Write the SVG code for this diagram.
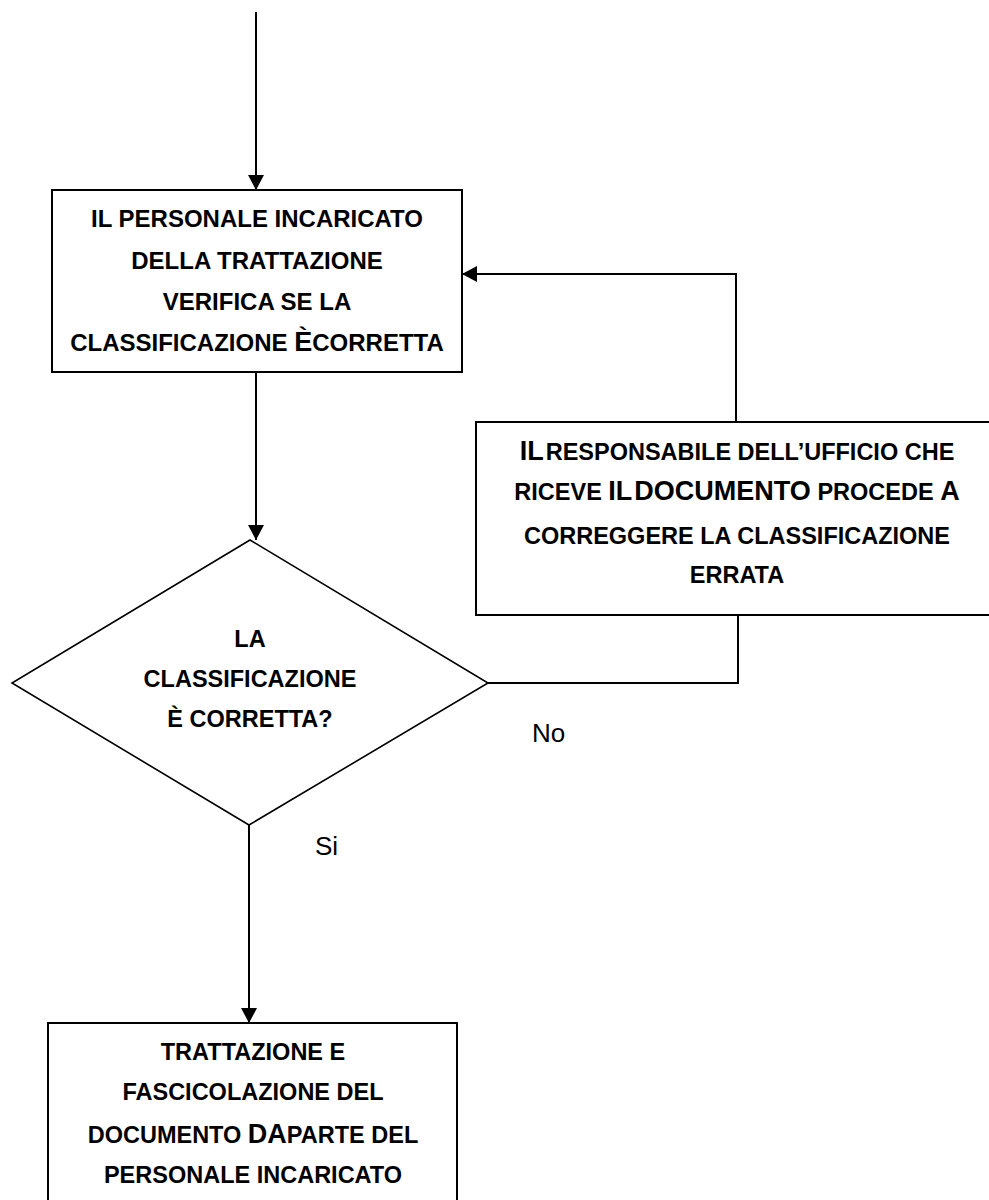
<svg xmlns="http://www.w3.org/2000/svg" width="989" height="1200" viewBox="0 0 989 1200">
<style>
.box{fill:#fff;stroke:#000;stroke-width:2}
.dia{fill:#fff;stroke:#000;stroke-width:1.6}
.t{font-family:"Liberation Sans",Arial,sans-serif;font-weight:bold;font-size:23.5px;fill:#000;text-anchor:middle}
.big{font-size:27px}
.lbl{font-family:"Liberation Sans",Arial,sans-serif;font-size:26px;fill:#000}
.c{fill:none;stroke:#000;stroke-width:2}
</style>
<defs>
<marker id="arr" markerUnits="userSpaceOnUse" viewBox="0 0 15 16" refX="15" refY="8" markerWidth="15" markerHeight="16" orient="auto">
<path d="M0,0 L15,8 L0,16 z" fill="#000"/>
</marker>
</defs>
<g id="connectors">
<line class="c" x1="256" y1="12" x2="256" y2="190" marker-end="url(#arr)"/>
<line class="c" x1="256" y1="372" x2="256" y2="540" marker-end="url(#arr)"/>
<line class="c" x1="249" y1="825" x2="249" y2="1023" marker-end="url(#arr)"/>
<polyline class="c" points="488,683 738,683 738,615"/>
<polyline class="c" points="736,422 736,274 462,274" marker-end="url(#arr)"/>
<text class="lbl" x="532" y="742">No</text>
<text class="lbl" x="315" y="855">Si</text>
</g>
<g id="box1">
<rect class="box" x="52" y="190" width="410" height="182"/>
<text class="t" x="257" y="227" style="font-size:24px">IL PERSONALE INCARICATO</text>
<text class="t" x="257" y="269" style="font-size:24px">DELLA TRATTAZIONE</text>
<text class="t" x="257" y="310" style="font-size:24px">VERIFICA SE LA</text>
<text class="t" x="257" y="351" style="font-size:24px">CLASSIFICAZIONE <tspan class="big">È</tspan>CORRETTA</text>
</g>
<g id="box2">
<rect class="box" x="476" y="422" width="523" height="193"/>
<text class="t" x="737" y="460"><tspan class="big">IL</tspan><tspan dx="2">RESPONSABILE DELL’UFFICIO CHE</tspan></text>
<text class="t" x="737" y="500">RICEVE <tspan class="big">IL</tspan><tspan class="big" dx="2">DOCUMENTO</tspan> PROCEDE <tspan class="big">A</tspan></text>
<text class="t" x="737" y="544">CORREGGERE LA CLASSIFICAZIONE</text>
<text class="t" x="737" y="583">ERRATA</text>
</g>
<g id="decision">
<polygon class="dia" points="250,540 488,683 249,825 12,683"/>
<text class="t" x="250" y="647">LA</text>
<text class="t" x="250" y="687">CLASSIFICAZIONE</text>
<text class="t" x="250" y="727">È CORRETTA?</text>
</g>
<g id="box3">
<rect class="box" x="48" y="1023" width="409" height="190"/>
<text class="t" x="253" y="1060">TRATTAZIONE E</text>
<text class="t" x="253" y="1100">FASCICOLAZIONE DEL</text>
<text class="t" x="253" y="1143">DOCUMENTO <tspan class="big">DA</tspan>PARTE DEL</text>
<text class="t" x="253" y="1183">PERSONALE INCARICATO</text>
</g>
</svg>
